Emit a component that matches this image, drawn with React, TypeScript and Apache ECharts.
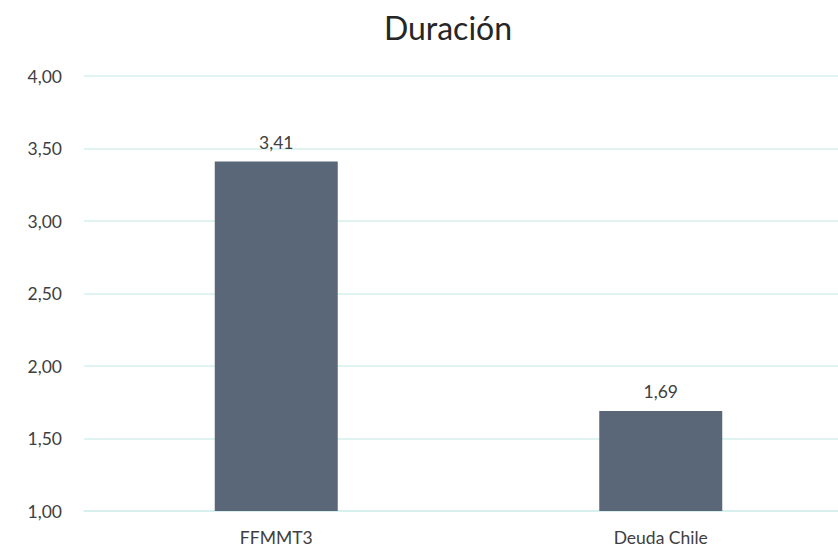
import React, { useEffect, useRef } from "react";
import * as echarts from "echarts";

const categories = ["FFMMT3", "Deuda Chile"];
const values = [3.41, 1.69];
const yTicks = { min: 1, max: 4, interval: 0.5 };
const titleText = "Duración";

const fmt = (v: number) => v.toFixed(2).replace(".", ",");

export default function App() {
  const ref = useRef<HTMLDivElement>(null);
  useEffect(() => {
    document.body.style.margin = "0";
    const chart = echarts.init(ref.current!, null, { renderer: "svg" });
    const font = "Lato, 'Open Sans', sans-serif";
    chart.setOption({
      animation: false,
      backgroundColor: "#ffffff",
      title: {
        text: titleText,
        left: 443,
        top: 6,
        textAlign: "center",
        textStyle: { fontFamily: font, fontSize: 32, fontWeight: "normal", color: "#262626" },
      },
      grid: { left: 84, right: 0, top: 76, bottom: 39, containLabel: false },
      xAxis: {
        type: "category",
        data: categories,
        axisLine: { show: true, lineStyle: { color: "#d5efec", width: 1.5 } },
        axisTick: { show: false },
        axisLabel: { fontFamily: font, fontSize: 17.5, color: "#404040", margin: 17 },
      },
      yAxis: {
        type: "value",
        min: yTicks.min,
        max: yTicks.max,
        interval: yTicks.interval,
        axisLine: { show: false },
        axisTick: { show: false },
        splitLine: { lineStyle: { color: "#d5efec", width: 1.5 } },
        axisLabel: {
          fontFamily: font,
          fontSize: 17.5,
          color: "#404040",
          margin: 22,
          formatter: (v: number) => fmt(v),
        },
      },
      series: [
        {
          type: "bar",
          data: values,
          barWidth: 123,
          itemStyle: { color: "#5a6778" },
          label: {
            show: true,
            position: "top",
            distance: 10,
            fontFamily: font,
            fontSize: 17.5,
            color: "#404040",
            formatter: (p: any) => fmt(p.value),
          },
        },
      ],
    });
    return () => chart.dispose();
  }, []);
  return (
    <div
      style={{ position: "fixed", left: 0, top: 0, width: 838, height: 550, overflow: "hidden" }}
    >
      <div ref={ref} style={{ width: 853, height: 550 }} />
    </div>
  );
}
